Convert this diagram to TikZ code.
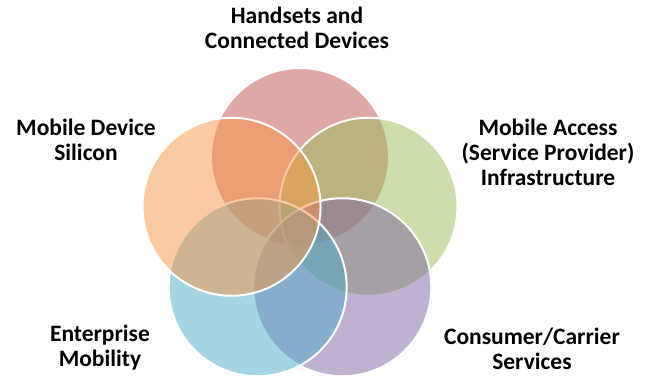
\documentclass[tikz,border=0pt]{standalone}
\usepackage{fontspec}
\setmainfont{Carlito}
\usepackage{tikz}

\definecolor{vred}{HTML}{C0504D}
\definecolor{vorange}{HTML}{F79646}
\definecolor{vgreen}{HTML}{9BBB59}
\definecolor{vblue}{HTML}{4BACC6}
\definecolor{vpurple}{HTML}{8064A2}

\begin{document}
\begin{tikzpicture}[x=1pt,y=1pt]
	\useasboundingbox (0,0) rectangle (654,377);
	\begin{scope}[shift={(300,148)},every node/.style={circle,draw=white,line width=2pt,fill opacity=0.5,minimum size=178pt,inner sep=0pt}]
		\node [fill=vred] (handsets) at (90:72) {};
		\node [fill=vgreen] (access) at (18:72) {};
		\node [fill=vpurple] (carrier) at (-54:72) {};
		\node [fill=vblue] (enterprise) at (-126:72) {};
		\node [fill=vorange] (silicon) at (162:72) {};
	\end{scope}
	
	\begin{scope}[every node/.style={align=center,inner sep=0pt,font=\bfseries\fontsize{23.5}{25}\selectfont}]
		\node (handsetslbl) at (297,349) {Handsets and\\Connected Devices};
		\node (siliconlbl) at (86,237) {Mobile Device\\Silicon};
		\node (accesslbl) at (548,225) {Mobile Access\\(Service Provider)\\Infrastructure};
		\node (enterpriselbl) at (100,29) {Enterprise\\Mobility};
		\node (carrierlbl) at (532,28) {Consumer/Carrier\\Services};
	\end{scope}
\end{tikzpicture}
\end{document}
